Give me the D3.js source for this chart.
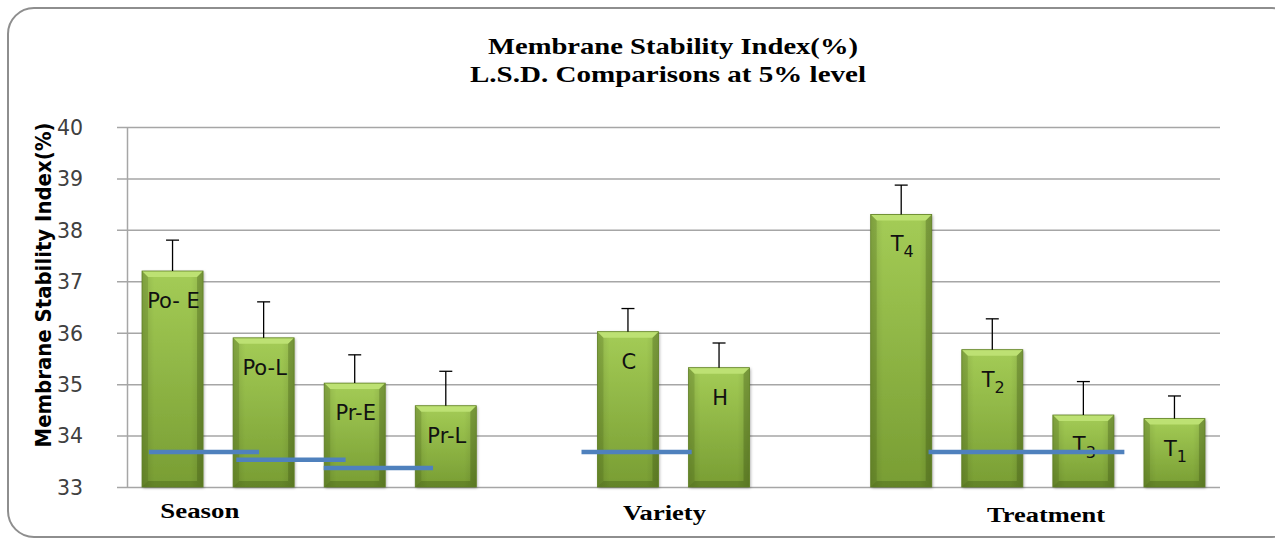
<!DOCTYPE html>
<html><head><meta charset="utf-8">
<script src="https://cdn.jsdelivr.net/npm/d3@7"></script>
<style>body{margin:0;background:#fff}</style></head>
<body>
<svg id="chart" width="1275" height="540"></svg>
<script>
// ---- data ----
const slots = ["Po- E","Po-L","Pr-E","Pr-L","_g1","C","H","_g2","T4","T2","T3","T1"];
const categories = ["Po- E","Po-L","Pr-E","Pr-L","C","H","T4","T2","T3","T1"];
const labelMain = ["Po- E","Po-L","Pr-E","Pr-L","C","H","T","T","T","T"];
const labelSub  = ["","","","","","","4","2","3","1"];
const means   = [37.2, 35.9, 35.02, 34.58, 36.02, 35.32, 38.3, 35.67, 34.4, 34.33];
const errTops = [37.8, 36.6, 35.57, 35.25, 36.47, 35.8, 38.87, 36.27, 35.05, 34.77];
const yTicks = [33, 34, 35, 36, 37, 38, 39, 40];
const groups = ["Season", "Variety", "Treatment"];
const groupPos = [0.8, 5.9, 10.09];          // in slot units
const groupWidth = [79, 83, 118];
const lsdY    = [33.68, 33.53, 33.37, 33.68, 33.68];
const lsdFrom = [0.24, 1.20, 2.16, 4.99, 8.80]; // slot units
const lsdTo   = [1.45, 2.40, 3.36, 6.20, 10.95];
const titleLines = ["Membrane Stability Index(%)", "L.S.D. Comparisons at 5% level"];
const yTitle = "Membrane Stability Index(%)";

// ---- layout ----
const svg = d3.select("#chart");
const L = 127, R = 1220, T = 127, B = 487;
const x = d3.scaleBand().domain(slots).range([L, R]).paddingInner(0.33).paddingOuter(0.165);
const xi = d3.scaleLinear().domain([0, 12]).range([L, R]);
const y = d3.scaleLinear().domain([33, 40]).range([B, T]);

const defs = svg.append("defs");
const vg = defs.append("linearGradient").attr("id","vg").attr("x1",0).attr("y1",0).attr("x2",0).attr("y2",1);
vg.append("stop").attr("offset","0%").attr("stop-color","#a4cc56");
vg.append("stop").attr("offset","100%").attr("stop-color","#789d33");
const hg = defs.append("linearGradient").attr("id","hg").attr("x1",0).attr("y1",0).attr("x2",1).attr("y2",0);
hg.append("stop").attr("offset","0%").attr("stop-color","#000").attr("stop-opacity",0.12);
hg.append("stop").attr("offset","20%").attr("stop-color","#000").attr("stop-opacity",0);
hg.append("stop").attr("offset","80%").attr("stop-color","#000").attr("stop-opacity",0);
hg.append("stop").attr("offset","100%").attr("stop-color","#000").attr("stop-opacity",0.12);
const f = defs.append("filter").attr("id","sh").attr("x","-20%").attr("y","-20%").attr("width","140%").attr("height","140%");
f.append("feDropShadow").attr("dx",1).attr("dy",1).attr("stdDeviation",1.5).attr("flood-color","#000").attr("flood-opacity",0.35);

// border
svg.append("rect").attr("x",8).attr("y",8).attr("width",1290).attr("height",529)
  .attr("rx",26).attr("fill","none").attr("stroke","#8e8e8e").attr("stroke-width",2);

// title
titleLines.forEach((t,i)=>{
  svg.append("text").attr("x", i===0?673:668).attr("y", i===0?54:82)
    .attr("text-anchor","middle").attr("font-family","Liberation Serif, serif")
    .attr("font-weight","bold").attr("font-size",23)
    .attr("textLength", i===0?370:396).attr("lengthAdjust","spacingAndGlyphs")
    .attr("fill","#000").text(t);
});

// gridlines
svg.append("g").attr("transform",`translate(${L-10},0)`)
  .call(d3.axisRight(y).tickValues(yTicks).tickSize(R-L+10).tickFormat(""))
  .call(g=>g.select(".domain").remove())
  .call(g=>g.selectAll("line").attr("stroke","#a6a6a6").attr("stroke-width",1.5));
// y axis
svg.append("g").attr("transform",`translate(${L},0)`)
  .call(d3.axisLeft(y).tickValues(yTicks).tickSize(0).tickPadding(44).tickFormat(d3.format("d")))
  .call(g=>g.select(".domain").attr("stroke","#a6a6a6").attr("stroke-width",1.5))
  .call(g=>g.selectAll("text").attr("font-family","DejaVu Sans, sans-serif").attr("font-size",20.5).attr("fill","#404040").attr("dy","0.36em"));

// y title
svg.append("text").attr("transform","translate(51,285) rotate(-90)")
  .attr("text-anchor","middle").attr("font-family","DejaVu Sans, sans-serif")
  .attr("font-weight","bold").attr("font-size",20.5)
  .attr("textLength",325).attr("lengthAdjust","spacingAndGlyphs").text(yTitle);

// bars
const data = categories.map((c,i)=>({c, v:means[i], e:errTops[i], m:labelMain[i], s:labelSub[i]}));
const bw = x.bandwidth(), b = 6;
const bars = svg.append("g").selectAll("g").data(data).join("g");
bars.each(function(d){
  const g = d3.select(this);
  const x0 = x(d.c), x1 = x0 + bw, yt = y(d.v), yb = y(33);
  g.append("rect").attr("x",x0).attr("y",yt).attr("width",bw).attr("height",yb-yt)
    .attr("fill","url(#vg)").attr("filter","url(#sh)");
  g.append("rect").attr("x",x0).attr("y",yt).attr("width",bw).attr("height",yb-yt).attr("fill","url(#hg)");
  g.append("polygon").attr("points",[[x0,yt],[x1,yt],[x1-b,yt+b],[x0+b,yt+b]].join(" ")).attr("fill","#bde173");
  g.append("polygon").attr("points",[[x0,yt],[x0+b,yt+b],[x0+b,yb-b],[x0,yb]].join(" ")).attr("fill","#3d5510").attr("fill-opacity",0.2);
  g.append("polygon").attr("points",[[x1,yt],[x1-b,yt+b],[x1-b,yb-b],[x1,yb]].join(" ")).attr("fill","#2f450a").attr("fill-opacity",0.28);
  g.append("polygon").attr("points",[[x0,yb],[x0+b,yb-b],[x1-b,yb-b],[x1,yb]].join(" ")).attr("fill","#2f450a").attr("fill-opacity",0.28);
  g.append("rect").attr("x",x0).attr("y",yt).attr("width",bw).attr("height",yb-yt)
    .attr("fill","none").attr("stroke","#5f7f24").attr("stroke-width",0.8);
  // error bar
  const cx = x0 + bw/2;
  g.append("line").attr("x1",cx).attr("x2",cx).attr("y1",yt).attr("y2",y(d.e)).attr("stroke","#000").attr("stroke-width",1.3);
  g.append("line").attr("x1",cx-6.5).attr("x2",cx+6.5).attr("y1",y(d.e)).attr("y2",y(d.e)).attr("stroke","#000").attr("stroke-width",1.3);
  // label
  const t = g.append("text").attr("x",cx+1).attr("y",yt+37).attr("text-anchor","middle")
    .attr("font-family","DejaVu Sans, sans-serif").attr("font-size",21).attr("fill","#111");
  t.append("tspan").text(d.m);
  if (d.s) t.append("tspan").attr("font-size",16).attr("dy",6).text(d.s);
});

// LSD lines
svg.append("g").selectAll("line").data(lsdY).join("line")
  .attr("x1",(d,i)=>xi(lsdFrom[i])).attr("x2",(d,i)=>xi(lsdTo[i]))
  .attr("y1",d=>y(d)).attr("y2",d=>y(d))
  .attr("stroke","#4f81bd").attr("stroke-width",4.5);

// group labels
svg.append("g").selectAll("text").data(groups).join("text")
  .attr("x",(d,i)=>xi(groupPos[i])).attr("y",(d,i)=>[518,520,522][i])
  .attr("text-anchor","middle").attr("font-family","Liberation Serif, serif")
  .attr("font-weight","bold").attr("font-size",20)
  .attr("textLength",(d,i)=>groupWidth[i]).attr("lengthAdjust","spacingAndGlyphs")
  .text(d=>d);
</script>
</body></html>
